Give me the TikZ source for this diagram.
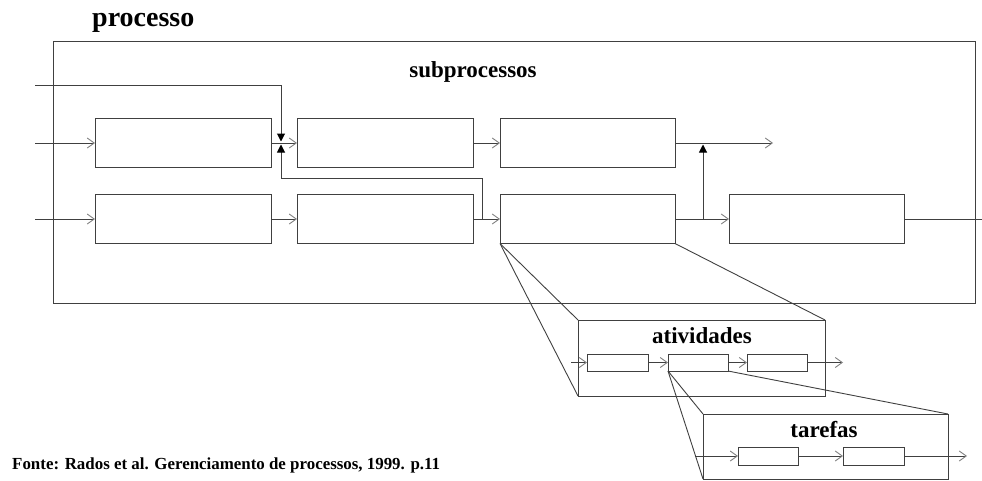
\documentclass[tikz,border=0pt]{standalone}
\usepackage{fontspec}
\setmainfont{Liberation Serif}
\usetikzlibrary{arrows.meta}
\tikzset{
  box/.style={draw=black!75, line width=1pt, fill=white, inner sep=0pt, outer sep=0pt},
  conn/.style={draw=black!75, line width=1pt},
  flow/.style={conn, -{Straight Barb[length=7pt,width=10pt,line width=0.9pt,color=black!50]}},
  tri/.style={conn, -{Triangle[length=8pt,width=8pt,color=black]}},
  trirev/.style={conn, {Triangle[length=8pt,width=8pt,color=black]}-},
  zoomline/.style={draw=black!75, line width=0.9pt},
  lbl/.style={inner sep=0pt, font=\bfseries},
}
\begin{document}
\begin{tikzpicture}[x=1pt,y=-1pt]
\useasboundingbox (0,0) rectangle (982,480);
% outer process box
\node[box, fill=none, minimum width=922pt, minimum height=262pt] (proc) at (514,172) {};
\node[lbl, anchor=base west, font=\bfseries\fontsize{28}{30}\selectfont] (tproc) at (92,26) {processo};
\node[lbl, anchor=base, font=\bfseries\fontsize{23}{25}\selectfont] (tsub) at (473,77) {subprocessos};
% row 1
\node[box, minimum width=176pt, minimum height=49pt] (r1a) at (183,143) {};
\node[box, minimum width=176pt, minimum height=49pt] (r1b) at (385,143) {};
\node[box, minimum width=175pt, minimum height=49pt] (r1c) at (587.5,143) {};
% row 2
\node[box, minimum width=176pt, minimum height=49pt] (r2a) at (183,219) {};
\node[box, minimum width=176pt, minimum height=49pt] (r2b) at (385,219) {};
\node[box, minimum width=175pt, minimum height=49pt] (r2c) at (587.5,219) {};
\node[box, minimum width=175pt, minimum height=49pt] (r2d) at (816.5,219) {};
% coordinates
\coordinate (in1) at (35,143);
\coordinate (in2) at (35,219);
\coordinate (in0) at (35,85);
\coordinate (jtop) at (281,141.5);
\coordinate (jbot) at (281,144.5);
\coordinate (lp1) at (281,178);
\coordinate (lp2) at (482,178);
\coordinate (lp3) at (482,219);
\coordinate (out1) at (773,143);
\coordinate (jr) at (703,219);
\coordinate (jrt) at (703,144.5);
\coordinate (out2) at (982,219);
% connectors
\draw[flow] (in1) -- (r1a.west);
\draw[flow] (in2) -- (r2a.west);
\draw[flow] (r1a.east) -- (r1b.west);
\draw[flow] (r1b.east) -- (r1c.west);
\draw[flow] (r2a.east) -- (r2b.west);
\draw[flow] (r2b.east) -- (r2c.west);
\draw[tri] (in0) -| (jtop);
\draw[trirev] (jbot) -- (lp1) -- (lp2) -- (lp3);
\draw[flow] (r1c.east) -- (out1);
\draw[flow] (r2c.east) -- (r2d.west);
\draw[tri] (jr) -- (jrt);
\draw[conn] (r2d.east) -- (out2);
% atividades
\node[box, minimum width=247pt, minimum height=76pt] (atv) at (701.5,358) {};
\draw[zoomline] (r2c.south west) -- (atv.north west);
\draw[zoomline] (r2c.south west) -- (atv.south west);
\draw[zoomline] (r2c.south east) -- (atv.north east);
\node[lbl, anchor=base, font=\bfseries\fontsize{23}{25}\selectfont] (tatv) at (702,343) {atividades};
\node[box, minimum width=61pt, minimum height=17pt] (a1) at (617.5,362.5) {};
\node[box, minimum width=60pt, minimum height=17pt] (a2) at (698,362.5) {};
\node[box, minimum width=60pt, minimum height=17pt] (a3) at (777,362.5) {};
\coordinate (ain) at (571,362.5);
\coordinate (aout) at (843,362.5);
\draw[flow] (ain) -- (a1.west);
\draw[flow] (a1.east) -- (a2.west);
\draw[flow] (a2.east) -- (a3.west);
\draw[flow] (a3.east) -- (aout);
% tarefas
\node[box, minimum width=245pt, minimum height=65pt] (tar) at (825.5,446.5) {};
\draw[zoomline] (a2.south west) -- (tar.north west);
\draw[zoomline] (a2.south west) -- (tar.south west);
\draw[zoomline] (a2.south east) -- (tar.north east);
\node[lbl, anchor=base, font=\bfseries\fontsize{23}{25}\selectfont] (ttar) at (824,437) {tarefas};
\node[box, minimum width=60pt, minimum height=18pt] (t1) at (768,456) {};
\node[box, minimum width=61pt, minimum height=18pt] (t2) at (873.5,456) {};
\coordinate (tin) at (695,456);
\coordinate (tout) at (967,456);
\draw[flow] (tin) -- (t1.west);
\draw[flow] (t1.east) -- (t2.west);
\draw[flow] (t2.east) -- (tout);
% source
\node[lbl, anchor=base west, font=\bfseries\fontsize{16.9}{19}\selectfont] (fonte) at (12,469) {Fonte: Rados et al. Gerenciamento de processos, 1999. p.11};
\end{tikzpicture}
\end{document}
